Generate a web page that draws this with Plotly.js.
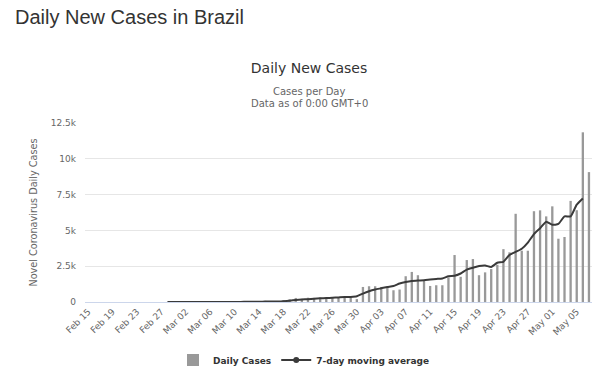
<!DOCTYPE html>
<html>
<head>
<meta charset="utf-8">
<script src="https://cdn.plot.ly/plotly-3.0.1.min.js"></script>
<style>
  html, body { margin: 0; padding: 0; background: #ffffff; }
  #chart { width: 600px; height: 375px; }
</style>
</head>
<body>
<div id="chart"></div>
<script>
// ---- Data ----
const dates = [
  "Feb 15","Feb 16","Feb 17","Feb 18","Feb 19","Feb 20","Feb 21","Feb 22","Feb 23","Feb 24","Feb 25","Feb 26","Feb 27","Feb 28","Feb 29",
  "Mar 01","Mar 02","Mar 03","Mar 04","Mar 05","Mar 06","Mar 07","Mar 08","Mar 09","Mar 10",
  "Mar 11","Mar 12","Mar 13","Mar 14","Mar 15","Mar 16","Mar 17","Mar 18","Mar 19","Mar 20",
  "Mar 21","Mar 22","Mar 23","Mar 24","Mar 25","Mar 26","Mar 27","Mar 28","Mar 29","Mar 30","Mar 31",
  "Apr 01","Apr 02","Apr 03","Apr 04","Apr 05","Apr 06","Apr 07","Apr 08","Apr 09","Apr 10",
  "Apr 11","Apr 12","Apr 13","Apr 14","Apr 15","Apr 16","Apr 17","Apr 18","Apr 19","Apr 20",
  "Apr 21","Apr 22","Apr 23","Apr 24","Apr 25","Apr 26","Apr 27","Apr 28","Apr 29","Apr 30",
  "May 01","May 02","May 03","May 04","May 05","May 06","May 07"
];

const dailyCases = [
  0,0,0,0,0,0,0,0,0,0,0,1,0,0,1,
  0,0,0,1,4,5,6,5,5,9,
  18,25,21,23,79,34,57,137,193,283,
  224,300,290,310,240,320,330,310,310,200,1050,
  1100,1100,1050,1000,820,870,1800,2100,1870,1480,
  1120,1170,1170,1710,3280,1760,2930,3000,1870,2070,
  2300,2600,3690,3470,6160,3580,3580,6340,6400,5980,
  6680,4420,4540,7060,6410,11850,9070
];

const movingAvg = [
  null,null,null,null,null,null,null,null,null,null,null,null,null,0,0,
  0,0,0,1,2,2,3,4,5,6,
  8,11,14,17,28,32,40,60,95,140,
  170,200,230,255,275,295,320,345,355,400,590,
  750,870,960,1050,1120,1290,1400,1470,1500,1520,
  1570,1610,1640,1800,1830,1990,2260,2390,2510,2550,
  2450,2740,2810,3290,3500,3720,4150,4740,5150,5610,
  5390,5450,5980,5980,6800,7230,null
];

const xTickLabels = [
  "Feb 15","Feb 19","Feb 23","Feb 27","Mar 02","Mar 06","Mar 10","Mar 14","Mar 18","Mar 22",
  "Mar 26","Mar 30","Apr 03","Apr 07","Apr 11","Apr 15","Apr 19","Apr 23","Apr 27","May 01","May 05"
];

const yTickVals = [0, 2500, 5000, 7500, 10000, 12500];
const yTickText = ["0", "2.5k", "5k", "7.5k", "10k", "12.5k"];

// ---- Styling ----
const FONT = "DejaVu Sans";
const lineColor = "#3a3a3a";
// only the first (never drawn) marker is visible, so the legend shows a dot but the line has none
const markerColors = dates.map((d, i) => i === 0 ? lineColor : "rgba(0,0,0,0)");

const traces = [
  {
    type: "bar",
    name: "Daily Cases",
    x: dates,
    y: dailyCases,
    marker: { color: "#999999" },
    hoverinfo: "x+y"
  },
  {
    type: "scatter",
    mode: "lines+markers",
    name: "7-day moving average",
    x: dates,
    y: movingAvg,
    connectgaps: false,
    line: { color: lineColor, width: 2, shape: "spline", smoothing: 0.5 },
    marker: { size: 6, color: markerColors },
    hoverinfo: "x+y"
  }
];

const plotL = 85, plotR = 592, plotT = 123, plotB = 301.7;
const px2x = (px) => (px - plotL) / (plotR - plotL);
const py2y = (py) => (plotB - py) / (plotB - plotT);

const layout = {
  width: 600,
  height: 375,
  margin: { l: plotL, r: 600 - plotR, t: plotT, b: 375 - plotB, autoexpand: false },
  paper_bgcolor: "#ffffff",
  plot_bgcolor: "#ffffff",
  font: { family: FONT, color: "#666666", size: 9 },
  bargap: 0.62,
  showlegend: true,
  title: {
    text: "Daily New Cases",
    xref: "container", yref: "container",
    x: 309 / 600, y: 1 - 68 / 375,
    xanchor: "center", yanchor: "middle",
    font: { family: FONT, size: 14, color: "#333333" }
  },
  xaxis: {
    type: "category",
    automargin: false,
    range: [-0.5, dates.length - 0.5],
    tickmode: "array",
    tickvals: xTickLabels,
    ticktext: xTickLabels,
    tickangle: -45,
    tickfont: { family: FONT, size: 9, color: "#666666" },
    showgrid: false,
    showline: true,
    linecolor: "#ccd6eb",
    linewidth: 1,
    ticks: "",
    zeroline: false,
    fixedrange: true
  },
  yaxis: {
    automargin: false,
    range: [0, 12500],
    tickmode: "array",
    tickvals: yTickVals,
    ticktext: yTickText,
    tickfont: { family: FONT, size: 9, color: "#666666" },
    showgrid: true,
    gridcolor: "#e6e6e6",
    gridwidth: 1,
    zeroline: false,
    showline: false,
    ticks: "",
    ticklabelstandoff: 8,
    title: {
      text: "Novel Coronavirus Daily Cases",
      font: { family: FONT, size: 9.7, color: "#666666" },
      standoff: 11
    },
    fixedrange: true
  },
  legend: {
    orientation: "h",
    xref: "paper", yref: "container",
    x: px2x(304), y: 1 - 360 / 375,
    xanchor: "center", yanchor: "middle",
    font: { family: FONT, size: 9, color: "#333333", weight: "bold" },
    itemwidth: 30,
    traceorder: "normal",
    bgcolor: "rgba(0,0,0,0)"
  },
  annotations: [
    {
      text: "Daily New Cases in Brazil",
      xref: "paper", yref: "paper",
      x: px2x(13), y: py2y(17),
      xanchor: "left", yanchor: "middle",
      showarrow: false,
      font: { family: "Liberation Sans", size: 20, color: "#333333" }
    },
    {
      text: "Cases per Day",
      xref: "paper", yref: "paper",
      x: px2x(309), y: py2y(92),
      xanchor: "center", yanchor: "middle",
      showarrow: false,
      font: { family: FONT, size: 10, color: "#666666" }
    },
    {
      text: "Data as of 0:00 GMT+0",
      xref: "paper", yref: "paper",
      x: px2x(309), y: py2y(104),
      xanchor: "center", yanchor: "middle",
      showarrow: false,
      font: { family: FONT, size: 10, color: "#666666" }
    }
  ]
};

Plotly.newPlot("chart", traces, layout, { displayModeBar: false, staticPlot: true });
</script>
</body>
</html>
